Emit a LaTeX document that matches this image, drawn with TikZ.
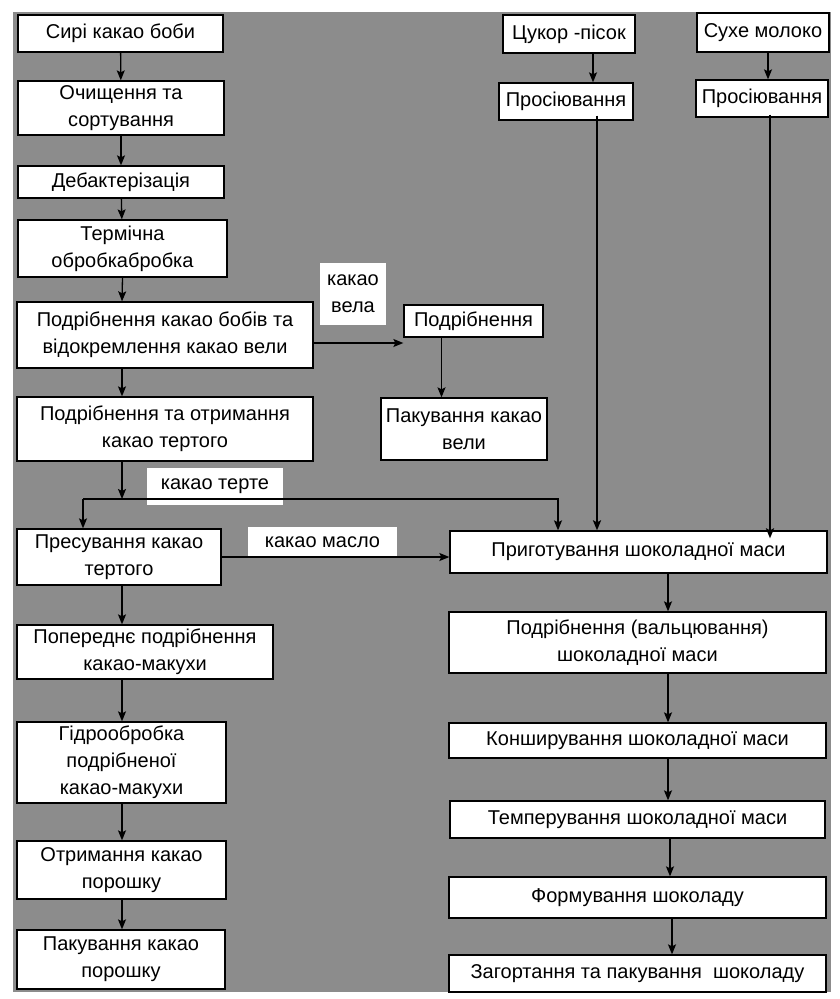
\documentclass[tikz,border=0pt]{standalone}
\usepackage{fontspec}
\setmainfont{Liberation Sans}
\usetikzlibrary{arrows.meta}
\definecolor{bggray}{RGB}{140,140,140}
\begin{document}
\begin{tikzpicture}[x=1pt,y=-1pt,
    stepbox/.style={draw,fill=white,line width=1.3pt,align=center,inner sep=0pt,
      font=\fontsize{20pt}{27pt}\selectfont},
    tagbox/.style={fill=white,align=center,inner sep=0pt,
      font=\fontsize{20pt}{27pt}\selectfont},
    flow/.style={->,>={Stealth[length=10pt,width=8pt,inset=2pt]},line width=1.3pt},
    feed/.style={->,>={Stealth[length=10pt,width=8pt,inset=2pt]},line width=2.4pt}]
    \useasboundingbox (0,0) rectangle (840,999);
    \fill[bggray] (13,12) rectangle (831,992);
    % left column: cocoa beans
    \node[stepbox,minimum width=205,minimum height=37] (raw) at (120.5,33.5) {Сирі какао боби};
    \node[stepbox,minimum width=206,minimum height=54] (clean) at (121,108) {Очищення та\\сортування};
    \node[stepbox,minimum width=206,minimum height=32] (debac) at (121,182) {Дебактерізація};
    \node[stepbox,minimum width=209,minimum height=57] (heat) at (122.5,248.5) {Термічна\\обробкабробка};
    \node[stepbox,minimum width=296,minimum height=66] (crush) at (165,335) {Подрібнення какао бобів та\\відокремлення какао вели};
    \node[stepbox,minimum width=296,minimum height=64] (grind) at (165,429) {Подрібнення та отримання\\какао тертого};
    \node[stepbox,minimum width=204,minimum height=56] (press) at (119,557) {Пресування какао\\тертого};
    \node[stepbox,minimum width=256,minimum height=54] (pregr) at (145,652) {Попереднє подрібнення\\какао-макухи};
    \node[stepbox,minimum width=209,minimum height=81] (hydro) at (121.5,762.5) {Гідрообробка\\подрібненої\\какао-макухи};
    \node[stepbox,minimum width=209,minimum height=58] (powder) at (121.5,870) {Отримання какао\\порошку};
    \node[stepbox,minimum width=208,minimum height=59] (packp) at (121,959.5) {Пакування какао\\порошку};
    % cocoa shell branch
    \node[stepbox,minimum width=139,minimum height=32] (mill) at (473.5,321) {Подрібнення};
    \node[stepbox,minimum width=166,minimum height=62] (packv) at (464,429) {Пакування какао\\вели};
    % sugar and milk
    \node[stepbox,minimum width=132,minimum height=38] (sugar) at (569,34) {Цукор -пісок};
    \node[stepbox,minimum width=134,minimum height=37] (sift1) at (566,101.5) {Просіювання};
    \node[stepbox,minimum width=132,minimum height=39] (milk) at (763,32.5) {Сухе молоко};
    \node[stepbox,minimum width=132,minimum height=37] (sift2) at (762,98.5) {Просіювання};
    % right column: chocolate
    \node[stepbox,minimum width=377,minimum height=42] (mass) at (638.5,552) {Приготування шоколадної маси};
    \node[stepbox,minimum width=377,minimum height=61] (roll) at (637.5,642.5) {Подрібнення (вальцювання)\\шоколадної маси};
    \node[stepbox,minimum width=377,minimum height=35] (conch) at (637.5,740.5) {Конширування шоколадної маси};
    \node[stepbox,minimum width=375,minimum height=37] (temper) at (637.5,819.5) {Темперування шоколадної маси};
    \node[stepbox,minimum width=377,minimum height=41] (form) at (637.5,897.5) {Формування шоколаду};
    \node[stepbox,minimum width=377,minimum height=37] (wrap) at (637.5,973.5) {Загортання та пакування\ \ шоколаду};
    % labels on the flows
    \node[tagbox,minimum width=66,minimum height=62] (vela) at (353,294) {какао\\вела};
    \node[tagbox,minimum width=136,minimum height=37] (terte) at (215,486.5) {какао терте};
    \node[tagbox,minimum width=149,minimum height=31] (butter) at (322.5,542.5) {какао масло};
    \coordinate (laxis) at (122,0);
    \coordinate (raxis) at (668,0);
    \coordinate (tl) at (83,499);
    \coordinate (tr) at (558,499);
    % arrows
    \draw[flow] (raw) -- (clean);
    \draw[flow] (clean) -- (debac);
    \draw[flow] (debac) -- (heat);
    \draw[flow] (heat.south) -- (laxis |- crush.north);
    \draw[flow] (laxis |- crush.south) -- (laxis |- grind.north);
    \draw[flow] (laxis |- grind.south) -- (laxis |- tl);
    \draw[flow] (tl) -- (tl |- press.north);
    \draw[flow] (tl) -- (tr) -- (tr |- mass.north);
    \draw[flow] ([yshift=-8]crush.east) -- ([yshift=-8]crush.east -| mill.west);
    \draw[flow] ([xshift=-32]mill.south) -- ([xshift=-32]mill.south |- packv.north);
    \draw[flow] (press.east) -- (press.east -| mass.west);
    \draw[flow] ([xshift=24]sugar.south) -- ([xshift=24]sugar.south |- sift1.north);
    \draw[flow] ([xshift=5]milk.south) -- ([xshift=5]milk.south |- sift2.north);
    \draw[feed] ([xshift=31,yshift=5]sift1.south) -- ([xshift=31]sift1.south |- mass.north);
    \draw[feed] ([xshift=8,yshift=3]sift2.south) -- ([xshift=8,yshift=-8]sift2.south |- mass.north);
    \draw[flow] (raxis |- mass.south) -- (raxis |- roll.north);
    \draw[flow] (raxis |- roll.south) -- (raxis |- conch.north);
    \draw[flow] (raxis |- conch.south) -- (raxis |- temper.north);
    \draw[flow] ([xshift=2]raxis |- temper.south) -- ([xshift=2]raxis |- form.north);
    \draw[flow] ([xshift=4]raxis |- form.south) -- ([xshift=4]raxis |- wrap.north);
    \draw[flow] (laxis |- press.south) -- (laxis |- pregr.north);
    \draw[flow] (laxis |- pregr.south) -- (laxis |- hydro.north);
    \draw[flow] (laxis |- hydro.south) -- (laxis |- powder.north);
    \draw[flow] (laxis |- powder.south) -- (laxis |- packp.north);
\end{tikzpicture}
\end{document}
